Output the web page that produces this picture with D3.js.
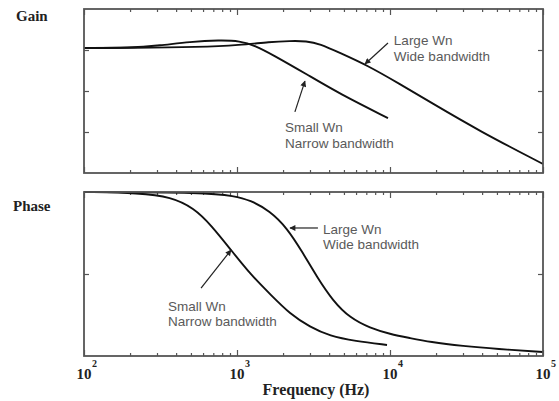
<!DOCTYPE html>
<html lang="en">
<head>
<meta charset="utf-8">
<title>Gain and phase vs frequency</title>
<script src="https://d3js.org/d3.v7.min.js"></script>
<style>
  body { margin: 0; background: #fff; }
  .lbl { font-family: "Liberation Serif", "DejaVu Serif", serif; font-weight: bold; fill: #222; }
  .note { font-family: "Liberation Sans", Arial, sans-serif; font-size: 13.5px; fill: #5a5a5a; }
  .frame { fill: none; stroke: #555; stroke-width: 1.8; }
  .curve { fill: none; stroke: #111; stroke-width: 1.9; }
  .tick line { stroke: #555; stroke-width: 1.2; }
  .domain { display: none; }
</style>
</head>
<body>
<script>
// frequencies (Hz) and levels
var gainFreqLarge = [100, 200, 574, 1047, 1644, 2220, 2850, 3480, 4700, 7070, 11600, 18300, 38600, 100000];
var gainLarge     = [3.05, 3.05, 3.07, 3.12, 3.20, 3.22, 3.22, 3.15, 2.93, 2.63, 2.17, 1.73, 1.02, 0.22];

var gainFreqSmall = [100, 200, 313, 493, 770, 1047, 1310, 1720, 2850, 4700, 9700];
var gainSmall     = [3.05, 3.05, 3.11, 3.20, 3.24, 3.22, 3.11, 2.88, 2.41, 1.93, 1.34];

var phaseFreqSmall = [100, 232, 370, 523, 676, 914, 1235, 1668, 2220, 3000, 4050, 5900, 9560];
var phaseSmall     = [0, -1.1, -5.5, -17.6, -36.2, -63.7, -91.1, -113.1, -133.9, -148.2, -158.1, -163.5, -167.9];

var phaseFreqLarge = [100, 637, 955, 1216, 1643, 2124, 2700, 3330, 4240, 5480, 7400, 10000, 13500, 18200, 30000, 50000, 100000];
var phaseLarge     = [0, -0.5, -4.4, -8.8, -20.9, -39.5, -67.0, -93.3, -119.6, -138.3, -149.3, -155.9, -160.3, -164.7, -169.1, -172.3, -175.6];

var decades = [100, 1000, 10000, 100000];
var exponents = ["2", "3", "4", "5"];
var gainTicks = [1, 2, 3];
var phaseTicks = [-90];

// annotations: text lines, text anchor (f, v), arrow tail (f, v), arrow head (f, v)
var gainNotes = [
  { lines: ["Large Wn", "Wide bandwidth"], at: [10600, 3.12], from: [9700, 3.17], to: [6870, 2.66] },
  { lines: ["Small Wn", "Narrow bandwidth"], at: [2060, 1.0], from: [2390, 1.49], to: [2780, 2.24] }
];
var phaseNotes = [
  { lines: ["Large Wn", "Wide bandwidth"], at: [3650, -46], from: [3380, -39.5], to: [2220, -39.5] },
  { lines: ["Small Wn", "Narrow bandwidth"], at: [354, -130.6], from: [582, -105.4], to: [914, -63.7] }
];

var width = 559, height = 401;
var svg = d3.select("body").append("svg")
  .attr("width", width)
  .attr("height", height);

svg.append("defs").append("marker")
  .attr("id", "head")
  .attr("viewBox", "0 0 10 10")
  .attr("refX", 9).attr("refY", 5)
  .attr("markerWidth", 8).attr("markerHeight", 6)
  .attr("markerUnits", "userSpaceOnUse")
  .attr("orient", "auto")
  .append("path")
  .attr("d", "M0,0 L10,5 L0,10 z")
  .attr("fill", "#222");

var x = d3.scaleLog().domain([100, 100000]).range([84, 543]);
var yGain = d3.scaleLinear().domain([0, 4]).range([173, 9]);
var yPhase = d3.scaleLinear().domain([-180, 0]).range([356, 192]);

var minor = x.ticks().filter(function(d) { return decades.indexOf(d) < 0; });

function panel(y, ticks, series, notes) {
  var top = y.range()[1], bottom = y.range()[0];
  var g = svg.append("g");

  // inward ticks on every side
  g.append("g").attr("transform", "translate(0," + top + ")")
    .call(d3.axisBottom(x).tickValues(minor).tickSize(3).tickFormat(""));
  g.append("g").attr("transform", "translate(0," + top + ")")
    .call(d3.axisBottom(x).tickValues(decades).tickSize(6).tickFormat(""));
  g.append("g").attr("transform", "translate(0," + bottom + ")")
    .call(d3.axisTop(x).tickValues(minor).tickSize(3).tickFormat(""));
  g.append("g").attr("transform", "translate(0," + bottom + ")")
    .call(d3.axisTop(x).tickValues(decades).tickSize(6).tickFormat(""));
  g.append("g").attr("transform", "translate(" + x.range()[0] + ",0)")
    .call(d3.axisRight(y).tickValues(ticks).tickSize(5).tickFormat(""));
  g.append("g").attr("transform", "translate(" + x.range()[1] + ",0)")
    .call(d3.axisLeft(y).tickValues(ticks).tickSize(5).tickFormat(""));

  var line = d3.line()
    .x(function(d) { return x(d[0]); })
    .y(function(d) { return y(d[1]); })
    .curve(d3.curveBasis);

  series.forEach(function(s) {
    g.append("path")
      .attr("class", "curve")
      .attr("d", line(d3.zip(s[0], s[1])));
  });

  g.append("rect")
    .attr("class", "frame")
    .attr("x", x.range()[0]).attr("y", top)
    .attr("width", x.range()[1] - x.range()[0])
    .attr("height", bottom - top);

  notes.forEach(function(n) {
    g.append("line")
      .attr("x1", x(n.from[0])).attr("y1", y(n.from[1]))
      .attr("x2", x(n.to[0])).attr("y2", y(n.to[1]))
      .attr("stroke", "#222").attr("stroke-width", 1.2)
      .attr("marker-end", "url(#head)");
    var t = g.append("text")
      .attr("class", "note")
      .attr("x", x(n.at[0])).attr("y", y(n.at[1]));
    t.selectAll("tspan").data(n.lines).enter().append("tspan")
      .attr("x", x(n.at[0]))
      .attr("dy", function(d, i) { return i ? 15.5 : 0; })
      .text(function(d) { return d; });
  });
}

panel(yGain, gainTicks, [[gainFreqSmall, gainSmall], [gainFreqLarge, gainLarge]], gainNotes);
panel(yPhase, phaseTicks, [[phaseFreqSmall, phaseSmall], [phaseFreqLarge, phaseLarge]], phaseNotes);

svg.append("text").attr("class", "lbl").attr("x", 16).attr("y", 21)
  .style("font-size", "15px").text("Gain");
svg.append("text").attr("class", "lbl").attr("x", 13).attr("y", 211)
  .style("font-size", "15px").text("Phase");

// decade labels 10^n under the phase panel
svg.append("g").selectAll("text")
  .data(decades).enter().append("text")
  .attr("class", "lbl")
  .attr("x", function(d) { return x(d); })
  .attr("y", 379)
  .attr("text-anchor", "middle")
  .style("font-size", "15px")
  .text("10");
svg.append("g").selectAll("text")
  .data(decades).enter().append("text")
  .attr("class", "lbl")
  .attr("x", function(d) { return x(d) + 8; })
  .attr("y", 367)
  .style("font-size", "10px")
  .text(function(d, i) { return exponents[i]; });

svg.append("text").attr("class", "lbl")
  .attr("x", 316).attr("y", 395)
  .attr("text-anchor", "middle")
  .style("font-size", "16px")
  .text("Frequency (Hz)");
</script>
</body>
</html>
